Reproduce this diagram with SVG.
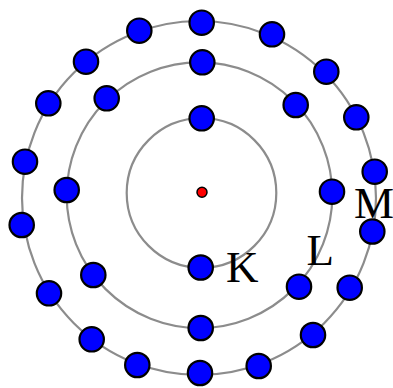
<svg xmlns="http://www.w3.org/2000/svg" width="393" height="388" viewBox="0 0 393 388">
<style>
.shell{fill:none;stroke:#8c8c8c;stroke-width:2.2}
.e{fill:#0000ff;stroke:#000;stroke-width:2.2}
.lbl{font-family:"Liberation Serif","Times New Roman",serif;font-size:45px;fill:#000}
</style>
<rect width="393" height="388" fill="#fff"/>
<g id="shells">
<circle class="shell" cx="201.5" cy="193" r="74.8"/>
<circle class="shell" cx="199.5" cy="195.2" r="132.8"/>
<circle class="shell" cx="199" cy="198" r="177"/>
</g>
<g id="nucleus"><circle cx="202" cy="192.3" r="5" fill="#ff0000" stroke="#000" stroke-width="1.5"/></g>
<g id="shell-K">
<circle class="e" cx="201.7" cy="118.3" r="12.2"/>
<circle class="e" cx="200.7" cy="267.5" r="12.2"/>
</g>
<g id="shell-L">
<circle class="e" cx="202.3" cy="62.3" r="12.2"/>
<circle class="e" cx="295.7" cy="105" r="12.2"/>
<circle class="e" cx="332" cy="191.7" r="12.2"/>
<circle class="e" cx="299" cy="286.7" r="12.2"/>
<circle class="e" cx="200.7" cy="328" r="12.2"/>
<circle class="e" cx="93.3" cy="275" r="12.2"/>
<circle class="e" cx="66.7" cy="190" r="12.2"/>
<circle class="e" cx="106.7" cy="98.3" r="12.2"/>
</g>
<g id="shell-M">
<circle class="e" cx="201.7" cy="22.7" r="12.2"/>
<circle class="e" cx="272" cy="34.3" r="12.2"/>
<circle class="e" cx="326.3" cy="71.7" r="12.2"/>
<circle class="e" cx="356.3" cy="117.3" r="12.2"/>
<circle class="e" cx="374.7" cy="171.7" r="12.2"/>
<circle class="e" cx="372.3" cy="231.5" r="12.2"/>
<circle class="e" cx="349.7" cy="287.7" r="12.2"/>
<circle class="e" cx="313" cy="335" r="12.2"/>
<circle class="e" cx="258.7" cy="366" r="12.2"/>
<circle class="e" cx="200" cy="373" r="12.2"/>
<circle class="e" cx="137.3" cy="365" r="12.2"/>
<circle class="e" cx="91.7" cy="339.3" r="12.2"/>
<circle class="e" cx="49" cy="293.3" r="12.2"/>
<circle class="e" cx="21.7" cy="225" r="12.2"/>
<circle class="e" cx="25" cy="161.7" r="12.2"/>
<circle class="e" cx="48.3" cy="103.3" r="12.2"/>
<circle class="e" cx="86" cy="61.7" r="12.2"/>
<circle class="e" cx="139.3" cy="30.7" r="12.2"/>
</g>
<g id="labels">
<text class="lbl" x="226" y="282">K</text>
<text class="lbl" x="306.5" y="265">L</text>
<text class="lbl" x="354" y="218">M</text>
</g>
</svg>
